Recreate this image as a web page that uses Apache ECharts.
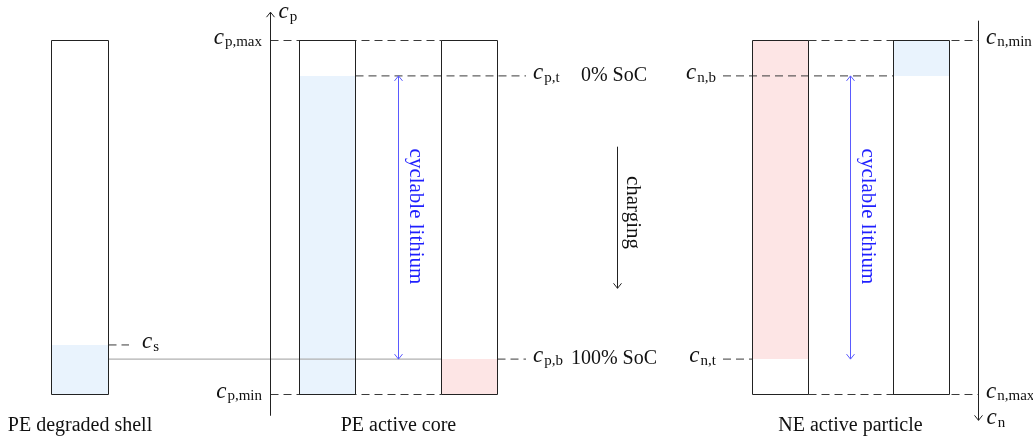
<!DOCTYPE html>
<html><head><meta charset="utf-8">
<script src="https://cdn.jsdelivr.net/npm/echarts@6/dist/echarts.min.js"></script>
<style>html,body{margin:0;padding:0;background:#fff}#c{width:1033px;height:441px}</style>
</head><body><div id="c"></div>
<script>
// ---------------- data ----------------
const peLevelNames = ['p,max', 'p,t', 'p,b', 'p,min'];
const peLevels = [1.0, 0.90, 0.10, 0.0];
const neLevelNames = ['n,min', 'n,b', 'n,t', 'n,max'];
const neLevels = [0.0, 0.10, 0.90, 1.0];
const shellLevelName = 's';
const shellLevel = 0.14;
const peAxisExtent = [-0.06, 1.08];
const neAxisExtent = [-0.056, 1.073];
const chargeArrowExtent = [0.70, 0.30];
const columnTitles = ['PE degraded shell', 'PE active core', 'NE active particle'];
const socLabels = ['0% SoC', '100% SoC'];
const arrowLabels = ['cyclable lithium', 'charging'];
const axisNames = ['p', 'n'];

// ---------------- layout / style ----------------
const L = {
  shell: [51.5, 108.5], pe0: [299.5, 355.5], pe1: [441.5, 497.5],
  ne0: [752.5, 808.5], ne1: [893.5, 949.5],
  peAxis: 270.5, neAxis: 978.5, peArrow: 398.5, neArrow: 850.5, charge: 617.5,
  shellDashEnd: 129, shellLabelX: 142, peDashEnd: 526, peLabelX: 533,
  neDashStart: 723, neLabelX: 716, neRightLabelX: 986, peLeftLabelX: 262,
  socX: 614, titleDy: 31, labelDy: -3
};
const FONT = '"Liberation Serif", "DejaVu Serif", serif';
const BLUE_FILL = '#e9f3fd', RED_FILL = '#fde5e5';
const DASH = { stroke: '#3a3a3a', lineWidth: 1, lineDash: [8, 5] };
const rich = {
  i: { fontFamily: FONT, fontStyle: 'italic', fontSize: 23, fill: '#111' },
  s: { fontFamily: FONT, fontSize: 15, fill: '#111', padding: [10, 0, 0, 1] }
};
function cLabel(sub, x, y, align) {
  return { type: 'text', x: x, y: y + L.labelDy, style: { text: '{i|c}{s|' + sub + '}', rich: rich, align: align, verticalAlign: 'middle' } };
}
function line(x1, y1, x2, y2, style) {
  return { type: 'line', shape: { x1: x1, y1: y1, x2: x2, y2: y2 }, style: style };
}
function head(x, y, dir, color) { // dir: -1 up, +1 down
  return { type: 'polyline', shape: { points: [[x - 4, y - dir * 5], [x, y], [x + 4, y - dir * 5]] },
    style: { stroke: color, lineWidth: 1, fill: null } };
}
function rect(x0, x1, y0, y1, style) {
  return { type: 'rect', shape: { x: x0, y: Math.min(y0, y1), width: x1 - x0, height: Math.abs(y1 - y0) }, style: style };
}
function text(str, x, y, size, color, rot) {
  return { type: 'text', x: x, y: y, rotation: rot || 0,
    style: { text: str, fontFamily: FONT, fontSize: size, fill: color, align: 'center', verticalAlign: 'middle' } };
}
const BOX = { stroke: '#222', lineWidth: 1, fill: null };
const ARROW_BLUE = '#5a5aff', TEXT_BLUE = '#1f1fff';

function renderPE(params, api) {
  const Y = v => api.coord([0, v])[1];
  const [yMax, yT, yB, yMin] = peLevels.map(Y);
  const yS = Y(shellLevel);
  const els = [];
  els.push(rect(L.shell[0], L.shell[1], yMin, yS, { fill: BLUE_FILL }));
  els.push(rect(L.pe0[0], L.pe0[1], yMin, yT, { fill: BLUE_FILL }));
  els.push(rect(L.pe1[0], L.pe1[1], yMin, yB, { fill: RED_FILL }));
  els.push(line(L.shell[1], yB, L.pe1[0], yB, { stroke: '#b0b0b0', lineWidth: 1.4 }));
  els.push(line(L.peAxis, yMax, L.pe1[0], yMax, DASH));
  els.push(line(L.peAxis, yMin, L.pe1[0], yMin, DASH));
  els.push(line(L.pe0[1], yT, L.peDashEnd, yT, DASH));
  els.push(line(L.pe1[1], yB, L.peDashEnd, yB, DASH));
  els.push(line(L.shell[1], yS, L.shellDashEnd, yS, DASH));
  els.push(rect(L.shell[0], L.shell[1], yMax, yMin, BOX));
  els.push(rect(L.pe0[0], L.pe0[1], yMax, yMin, BOX));
  els.push(rect(L.pe1[0], L.pe1[1], yMax, yMin, BOX));
  const a0 = Y(peAxisExtent[0]), a1 = Y(peAxisExtent[1]);
  els.push(line(L.peAxis, a0, L.peAxis, a1, { stroke: '#222', lineWidth: 1 }));
  els.push(head(L.peAxis, a1, -1, '#222'));
  els.push(cLabel(axisNames[0], L.peAxis + 8, a1 + 3, 'left'));
  els.push(cLabel(peLevelNames[0], L.peLeftLabelX, yMax, 'right'));
  els.push(cLabel(peLevelNames[3], L.peLeftLabelX, yMin, 'right'));
  els.push(cLabel(peLevelNames[1], L.peLabelX, yT, 'left'));
  els.push(cLabel(peLevelNames[2], L.peLabelX, yB, 'left'));
  els.push(cLabel(shellLevelName, L.shellLabelX, yS, 'left'));
  els.push(line(L.peArrow, yT, L.peArrow, yB, { stroke: ARROW_BLUE, lineWidth: 1 }));
  els.push(head(L.peArrow, yT, -1, ARROW_BLUE));
  els.push(head(L.peArrow, yB, 1, ARROW_BLUE));
  els.push(text(arrowLabels[0], L.peArrow + 17, (yT + yB) / 2 - 1, 21, TEXT_BLUE, -Math.PI / 2));
  els.push(text(socLabels[0], L.socX, yT, 20, '#111'));
  els.push(text(socLabels[1], L.socX, yB, 20, '#111'));
  const c0 = Y(chargeArrowExtent[0]), c1 = Y(chargeArrowExtent[1]);
  els.push(line(L.charge, c0, L.charge, c1, { stroke: '#222', lineWidth: 1 }));
  els.push(head(L.charge, c1, 1, '#222'));
  els.push(text(arrowLabels[1], L.charge + 15, (c0 + c1) / 2 - 5, 21, '#111', -Math.PI / 2));
  els.push(text(columnTitles[0], (L.shell[0] + L.shell[1]) / 2, yMin + L.titleDy, 20, '#111'));
  els.push(text(columnTitles[1], L.peArrow, yMin + L.titleDy, 20, '#111'));
  return { type: 'group', children: els };
}

function renderNE(params, api) {
  const Y = v => api.coord([0, v])[1];
  const [yMinN, yB, yT, yMaxN] = neLevels.map(Y);
  const els = [];
  els.push(rect(L.ne0[0], L.ne0[1], yMinN, yT, { fill: RED_FILL }));
  els.push(rect(L.ne1[0], L.ne1[1], yMinN, yB, { fill: BLUE_FILL }));
  els.push(line(L.ne0[1], yMinN, L.neAxis, yMinN, DASH));
  els.push(line(L.ne0[1], yMaxN, L.neAxis, yMaxN, DASH));
  els.push(line(L.neDashStart, yB, L.ne1[0], yB, DASH));
  els.push(line(L.neDashStart, yT, L.ne0[0], yT, DASH));
  els.push(rect(L.ne0[0], L.ne0[1], yMinN, yMaxN, BOX));
  els.push(rect(L.ne1[0], L.ne1[1], yMinN, yMaxN, BOX));
  const a0 = Y(neAxisExtent[0]), a1 = Y(neAxisExtent[1]);
  els.push(line(L.neAxis, a0, L.neAxis, a1, { stroke: '#222', lineWidth: 1 }));
  els.push(head(L.neAxis, a1, 1, '#222'));
  els.push(cLabel(axisNames[1], L.neAxis + 8, a1 + 1, 'left'));
  els.push(cLabel(neLevelNames[0], L.neRightLabelX, yMinN, 'left'));
  els.push(cLabel(neLevelNames[3], L.neRightLabelX, yMaxN, 'left'));
  els.push(cLabel(neLevelNames[1], L.neLabelX, yB, 'right'));
  els.push(cLabel(neLevelNames[2], L.neLabelX, yT, 'right'));
  els.push(line(L.neArrow, yB, L.neArrow, yT, { stroke: ARROW_BLUE, lineWidth: 1 }));
  els.push(head(L.neArrow, yB, -1, ARROW_BLUE));
  els.push(head(L.neArrow, yT, 1, ARROW_BLUE));
  els.push(text(arrowLabels[0], L.neArrow + 17, (yB + yT) / 2 - 1, 21, TEXT_BLUE, -Math.PI / 2));
  els.push(text(columnTitles[2], L.neArrow, yMaxN + L.titleDy, 20, '#111'));
  return { type: 'group', children: els };
}

const chart = echarts.init(document.getElementById('c'), null, { renderer: 'canvas' });
chart.setOption({
  animation: false,
  backgroundColor: '#fff',
  grid: { left: 0, width: 1033, top: 40.5, height: 354 },
  xAxis: { type: 'value', min: 0, max: 1033, show: false },
  yAxis: [
    { type: 'value', min: 0, max: 1, show: false },
    { type: 'value', min: 0, max: 1, inverse: true, show: false }
  ],
  series: [
    { type: 'custom', xAxisIndex: 0, yAxisIndex: 0, data: [[0, 0]], renderItem: renderPE, silent: true, clip: false },
    { type: 'custom', xAxisIndex: 0, yAxisIndex: 1, data: [[0, 0]], renderItem: renderNE, silent: true, clip: false }
  ]
});
</script></body></html>
